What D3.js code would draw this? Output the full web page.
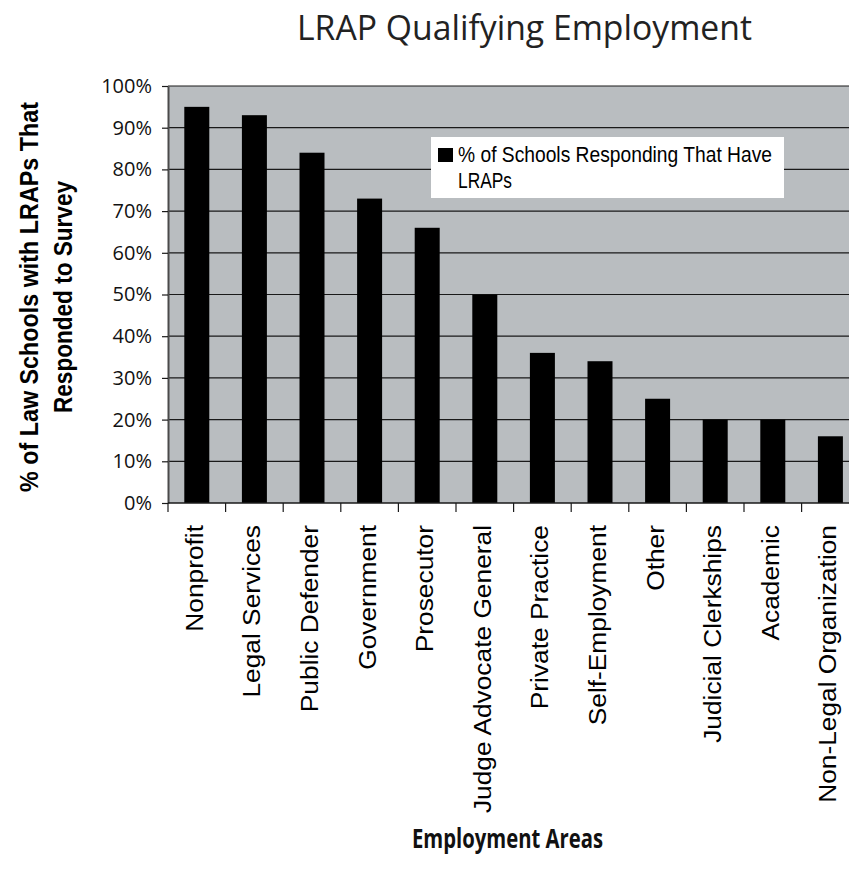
<!DOCTYPE html>
<html><head><meta charset="utf-8">
<script src="https://cdn.jsdelivr.net/npm/d3@7"></script>
<style>body{margin:0;background:#fff} svg{display:block}</style>
</head><body><svg id="c" width="849" height="882"></svg>
<script>
const categories = ["Nonprofit","Legal Services","Public Defender","Government","Prosecutor","Judge Advocate General","Private Practice","Self-Employment","Other","Judicial Clerkships","Academic","Non-Legal Organization"];
const values = [95,93,84,73,66,50,36,34,25,20,20,16];
const yTicks = [0,10,20,30,40,50,60,70,80,90,100];
const legendLines = ["% of Schools Responding That Have","LRAPs"];
const titleText = "LRAP Qualifying Employment";
const xTitle = "Employment Areas";
const yTitleLines = ["% of Law Schools with LRAPs That","Responded to Survey"];

(function(){
const svg = d3.select("#c");
const pLeft=168, pRight=859.2, pTop=86, pBottom=503;
const x = d3.scaleBand().domain(categories).range([pLeft,pRight]).paddingInner(0.566).paddingOuter(0.283);
const y = d3.scaleLinear().domain([0,100]).range([pBottom,pTop]);

// plot background
svg.append("rect").attr("x",pLeft).attr("y",pTop).attr("width",pRight-pLeft).attr("height",pBottom-pTop).attr("fill","#b9bdc0");

// gridlines
svg.append("g").selectAll("line").data(yTicks.filter(d=>d>0)).join("line")
  .attr("x1",pLeft).attr("x2",pRight).attr("y1",d=>y(d)).attr("y2",d=>y(d))
  .attr("stroke","#1a1a1a").attr("stroke-width",1.2);

// bars
svg.append("g").selectAll("rect").data(categories).join("rect")
  .attr("x",d=>x(d)).attr("y",(d,i)=>y(values[i]))
  .attr("width",x.bandwidth()).attr("height",(d,i)=>pBottom-y(values[i]))
  .attr("fill","#000");

// y axis
const yAxis = svg.append("g").attr("transform",`translate(${pLeft},0)`)
  .call(d3.axisLeft(y).tickValues(yTicks).tickSize(6).tickSizeOuter(0).tickPadding(10).tickFormat(d=>d+"%"));
yAxis.select(".domain").attr("stroke","#4a4a4a").attr("stroke-width",2);
yAxis.selectAll(".tick line").attr("stroke","#1a1a1a").attr("stroke-width",1.2);
yAxis.selectAll(".tick text").attr("font-family","'Open Sans', sans-serif").attr("font-size",20).attr("fill","#111");

// x axis line and boundary ticks
const gap = (x.step()-x.bandwidth())/2;
const bounds = categories.map(c=>x(c)-gap).concat([x(categories[categories.length-1])+x.bandwidth()+gap]);
svg.append("line").attr("x1",pLeft).attr("x2",pRight).attr("y1",pBottom).attr("y2",pBottom).attr("stroke","#1a1a1a").attr("stroke-width",1.5);
svg.append("g").selectAll("line").data(bounds).join("line")
  .attr("x1",d=>d).attr("x2",d=>d).attr("y1",pBottom).attr("y2",pBottom+9)
  .attr("stroke","#1a1a1a").attr("stroke-width",1.2);

// category labels
svg.append("g").selectAll("text").data(categories).join("text")
  .attr("transform",d=>`translate(${x(d)+x.bandwidth()/2+6},525) rotate(-90) scale(1.12,1)`)
  .attr("text-anchor","end")
  .attr("font-family","'Liberation Sans', Arial, sans-serif").attr("font-size",23.5).attr("fill","#000")
  .text(d=>d);

// title
svg.append("text").attr("x",297).attr("y",40)
  .attr("font-family","'Open Sans', sans-serif").attr("font-size",34).attr("fill","#222")
  .attr("textLength",455).attr("lengthAdjust","spacingAndGlyphs").text(titleText);

// x title
svg.append("text").attr("x",412).attr("y",848)
  .attr("font-family","'Open Sans', sans-serif").attr("font-weight","bold").attr("font-size",26).attr("fill","#111")
  .attr("textLength",191).attr("lengthAdjust","spacingAndGlyphs").text(xTitle);

// y title
const yTitleX = [38,72], yTitleLen = [390,232];
svg.append("g").selectAll("text").data(yTitleLines).join("text")
  .attr("transform",(d,i)=>`translate(${yTitleX[i]},297) rotate(-90)`)
  .attr("text-anchor","middle")
  .attr("font-family","'Liberation Sans', Arial, sans-serif").attr("font-weight","bold").attr("font-size",26).attr("fill","#000")
  .attr("textLength",(d,i)=>yTitleLen[i]).attr("lengthAdjust","spacingAndGlyphs")
  .text(d=>d);

// legend
const lg = svg.append("g");
lg.append("rect").attr("x",431).attr("y",137).attr("width",353).attr("height",61).attr("fill","#fff");
lg.append("rect").attr("x",438).attr("y",148).attr("width",15).attr("height",14).attr("fill","#000");
const legLen = [314,54], legY = [162.3,187.7];
lg.selectAll("text").data(legendLines).join("text")
  .attr("x",458).attr("y",(d,i)=>legY[i])
  .attr("font-family","'Liberation Sans', Arial, sans-serif").attr("font-size",21.5).attr("fill","#000")
  .attr("textLength",(d,i)=>legLen[i]).attr("lengthAdjust","spacingAndGlyphs")
  .text(d=>d);
})();
</script>
</body></html>
